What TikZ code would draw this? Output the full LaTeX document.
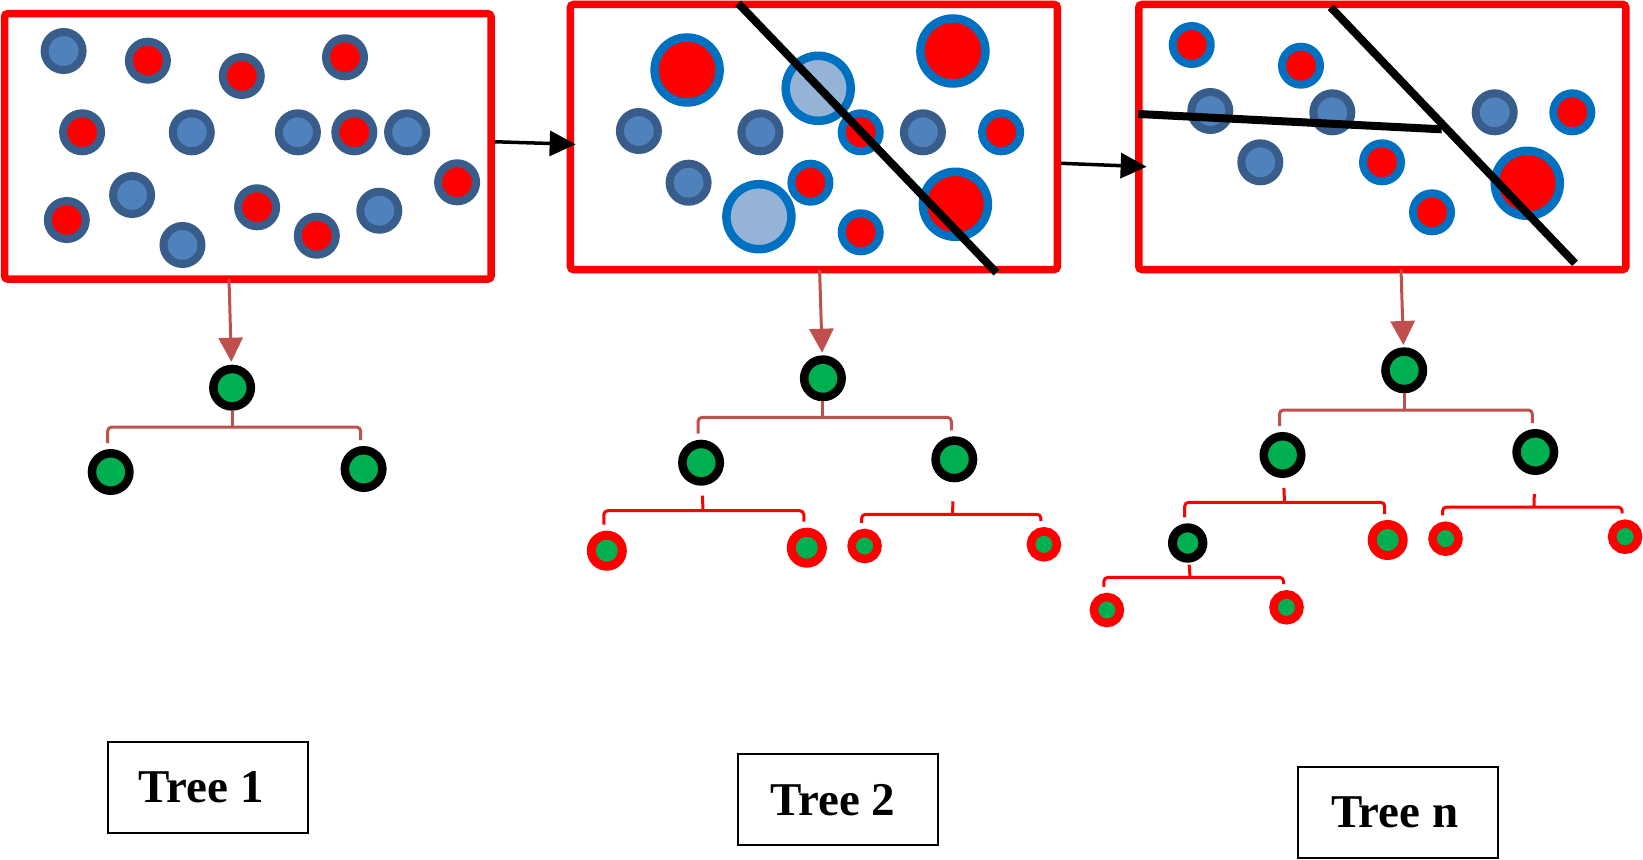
\documentclass[tikz,border=0pt]{standalone}
\usepackage{fontspec}
\setmainfont{Liberation Serif}
\usetikzlibrary{arrows.meta}
\definecolor{ringdark}{HTML}{385D8A}
\definecolor{fillblue}{HTML}{4F81BD}
\definecolor{ringbright}{HTML}{0070C0}
\definecolor{filllight}{HTML}{95B3D7}
\definecolor{leafgreen}{HTML}{00B050}
\definecolor{brownred}{HTML}{C0504D}
\definecolor{pred}{HTML}{FF0000}
\tikzset{
 pnl/.style={draw=pred, line width=7.5pt, rounded corners=3pt, inner sep=0pt},
 pc/.style={circle, inner sep=0pt, minimum size=38pt, line width=8pt},
 cdb/.style={pc, draw=ringdark, fill=fillblue},
 cdr/.style={pc, draw=ringdark, fill=pred},
 cbr/.style={pc, draw=ringbright, fill=pred},
 cbig/.style={minimum size=65pt, line width=8.5pt},
 clt/.style={pc, cbig, draw=ringbright, fill=filllight},
 tnode/.style={circle, inner sep=0pt, draw=black, fill=leafgreen, line width=8.5pt, minimum size=37.5pt},
 tsmall/.style={tnode, line width=9pt, minimum size=30.4pt},
 leafa/.style={circle, inner sep=0pt, draw=pred, fill=leafgreen, line width=9pt, minimum size=31pt},
 leafb/.style={leafa, line width=8.5pt, minimum size=26pt},
 brkone/.style={draw=brownred, line width=3pt, rounded corners=4pt},
 brktwo/.style={draw=pred, line width=3pt, rounded corners=4pt},
 darr/.style={draw=brownred, line width=3pt, -{Triangle[length=24pt,width=24pt]}},
 harr/.style={draw=black, line width=3.5pt, -{Triangle[length=26pt,width=25pt]}},
 cutline/.style={draw=black, line width=8pt},
 lbl/.style={draw=black, line width=2pt, minimum width=200pt, minimum height=91pt, inner sep=0pt, font=\bfseries\fontsize{47}{52}\selectfont},
 eA/.style={xshift=-3pt, yshift=6pt}
}
\begin{document}
\begin{tikzpicture}[x=1pt,y=-1pt]
\useasboundingbox (0,0) rectangle (1643,859);
% panels
\node[pnl, minimum width=486.4pt, minimum height=265.3pt] (p1) at (247.8,146.35) {};
\node[pnl, minimum width=486.9pt, minimum height=265pt] (p2) at (813.85,137) {};
\node[pnl, minimum width=487pt, minimum height=265pt] (p3) at (1382.3,137) {};
% panel 1 circles
\node[cdb] (c11) at (63.6,51) {};
\node[cdr] (c12) at (147.9,60.7) {};
\node[cdr] (c13) at (241.8,76) {};
\node[cdr] (c14) at (345,57.3) {};
\node[cdr] (c15) at (82.1,132.3) {};
\node[cdb] (c16) at (191.8,132.3) {};
\node[cdb] (c17) at (297.9,132.3) {};
\node[cdr] (c18) at (354.3,132.3) {};
\node[cdb] (c19) at (407.1,132.3) {};
\node[cdr] (c110) at (457.1,182.3) {};
\node[cdb] (c111) at (132.1,195) {};
\node[cdr] (c112) at (66.8,220) {};
\node[cdb] (c113) at (182.5,245) {};
\node[cdr] (c114) at (257.1,207.3) {};
\node[cdr] (c115) at (316.8,235.7) {};
\node[cdb] (c116) at (379.3,210.7) {};
% panel 2 circles
\node[cbr,cbig] (c2a) at (687.1,70) {};
\node[clt] (c2b) at (818.2,88.3) {};
\node[cbr,cbig] (c2c) at (952.9,51) {};
\node[clt] (c2j) at (758.9,216.7) {};
\node[cbr,cbig] (c2m) at (955.4,204.3) {};
\node[cdb] (c2d) at (638.9,131) {};
\node[cdb] (c2e) at (760.4,132.3) {};
\node[cbr] (c2f) at (860.7,132.3) {};
\node[cdb] (c2g) at (922.9,132.3) {};
\node[cbr] (c2h) at (1001.1,132.3) {};
\node[cdb] (c2i) at (688.6,182.7) {};
\node[cbr] (c2k) at (810.4,182.7) {};
\node[cbr] (c2l) at (860.7,232.3) {};
% panel 3 circles
\node[cbr] (c31) at (1191.7,45) {};
\node[cbr] (c32) at (1301,65.7) {};
\node[cdb] (c33) at (1210.3,111) {};
\node[cdb] (c34) at (1332.3,112.3) {};
\node[cdb] (c35) at (1494.7,112.3) {};
\node[cbr] (c36) at (1572.3,112.3) {};
\node[cdb] (c37) at (1260.3,162.3) {};
\node[cbr] (c38) at (1382,162.3) {};
\node[cbr] (c39) at (1432,212.3) {};
\node[cbr,cbig] (c310) at (1527.3,183.3) {};
% split lines
\draw[cutline] (738.2,3.3) -- (996.4,272.7);
\draw[cutline] (1330.7,7.3) -- (1575,263.3);
\draw[cutline] (1138.3,114) -- (1441.7,129.3);
% arrows between panels
\draw[harr] ([yshift=4.6pt]p1.east) -- ([xshift=9pt,yshift=-7.3pt]p2.west);
\draw[harr] ([yshift=-26.3pt]p2.east) -- ([xshift=11.6pt,yshift=-29.7pt]p3.west);
% tree 1
\node[tnode] (r1) at (232.1,387.7) {};
\node[tnode] (a1) at (110.7,472) {};
\node[tnode] (b1) at (363.6,469) {};
\coordinate (d1) at (229,279);
\draw[darr, shorten >=3pt] (d1) -- (r1);
\coordinate (j1) at (232.1,427);
\draw[brkone] (r1) -- (j1);
\draw[brkone] ([eA]a1.north) |- (j1) -| ([eA]b1.north);
% tree 2
\node[tnode] (r2) at (822.9,378.3) {};
\node[tnode] (a2) at (701.1,462.7) {};
\node[tnode] (b2) at (954.3,459.3) {};
\node[leafa] (l21) at (606.8,550.7) {};
\node[leafa] (l22) at (806.8,547.7) {};
\node[leafb] (l23) at (864.6,546) {};
\node[leafb] (l24) at (1043.9,544.3) {};
\coordinate (d2) at (819.6,270);
\draw[darr, shorten >=2.6pt] (d2) -- (r2);
\coordinate (j2) at (822.9,417.3);
\draw[brkone] (r2) -- (j2);
\draw[brkone] ([eA]a2.north) |- (j2) -| ([eA]b2.north);
\coordinate (j2a) at (703,510.7);
\draw[brktwo, shorten <=10pt] (a2) -- (j2a);
\draw[brktwo] ([eA]l21.north) |- (j2a) -| ([eA]l22.north);
\coordinate (j2b) at (952.5,514.3);
\draw[brktwo, shorten <=19pt] (b2) -- (j2b);
\draw[brktwo] ([eA]l23.north) |- (j2b) -| ([eA]l24.north);
% tree n
\node[tnode] (rn) at (1404.2,370.3) {};
\node[tnode] (an) at (1282.5,455) {};
\node[tnode] (bn) at (1535.3,452) {};
\node[tsmall] (cn) at (1187.7,543) {};
\node[leafa] (ln1) at (1387.7,540) {};
\node[leafb] (ln2) at (1445.5,538.7) {};
\node[leafb] (ln3) at (1625.1,536.7) {};
\node[leafb] (ln4) at (1106.9,610) {};
\node[leafb] (ln5) at (1286.5,607.3) {};
\coordinate (dn) at (1401,269.5);
\draw[darr, shorten >=2.3pt] (dn) -- (rn);
\coordinate (jn) at (1404.2,410);
\draw[brkone] (rn) -- (jn);
\draw[brkone] ([eA]an.north) |- (jn) -| ([eA]bn.north);
\coordinate (jna) at (1284.5,502.3);
\draw[brktwo, shorten <=10pt] (an) -- (jna);
\draw[brktwo] ([eA]cn.north) |- (jna) -| ([eA]ln1.north);
\coordinate (jnb) at (1534,507);
\draw[brktwo, shorten <=19pt] (bn) -- (jnb);
\draw[brktwo] ([eA]ln2.north) |- (jnb) -| ([eA]ln3.north);
\coordinate (jnc) at (1190,577.3);
\draw[brktwo, shorten <=2pt] (cn) -- (jnc);
\draw[brktwo] ([eA]ln4.north) |- (jnc) -| ([eA]ln5.north);
% labels
\node[lbl] (t1) at (208.2,787.2) {Tree 1\kern13.6pt};
\node[lbl] (t2) at (838.2,799.7) {Tree 2\kern10.5pt};
\node[lbl] (tn) at (1398.3,812) {Tree n\kern7pt};
\end{tikzpicture}
\end{document}
